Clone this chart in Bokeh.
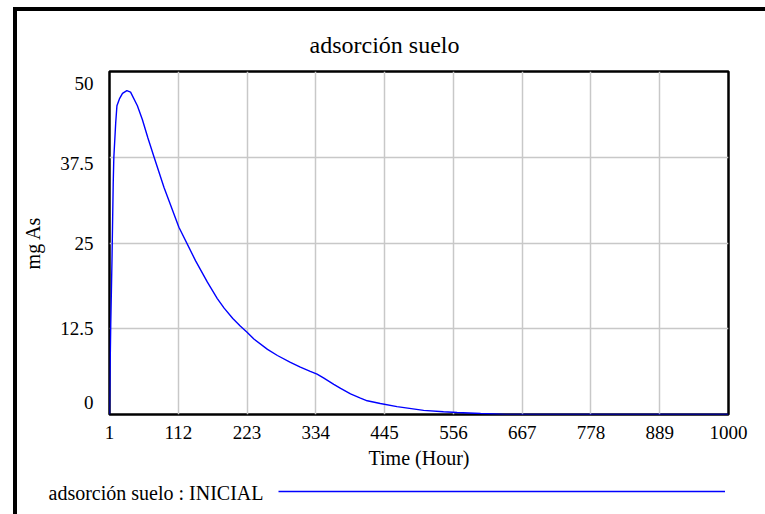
from bokeh.plotting import figure
from bokeh.layouts import column
from bokeh.models import (Range1d, FixedTicker, Label, Legend, LegendItem,
                          ColumnDataSource, CustomJSTickFormatter)
from bokeh.embed import file_html
from bokeh.resources import INLINE

# ---- data ----
time_hours = [1, 2, 3, 5, 7, 8, 11, 13, 17, 22, 29, 35, 46, 54, 63, 73, 89,
              113, 140, 159, 175, 186, 200, 212, 223, 234, 256, 272, 293,
              309, 325, 336, 347, 363, 374, 390, 406, 417, 438, 465, 508,
              540, 562, 600, 621, 640, 700, 800, 900, 1000]
adsorcion_inicial = [0, 7, 13, 22.4, 33.7, 37.5, 42.5, 45.0, 46.0, 46.8,
                     47.2, 47.0, 45.0, 43.0, 40.3, 37.5, 33.1, 27.3, 22.4,
                     19.3, 16.9, 15.5, 14.0, 12.9, 12.0, 11.0, 9.5, 8.6, 7.6,
                     6.9, 6.3, 5.9, 5.3, 4.4, 3.8, 3.0, 2.4, 2.0, 1.6, 1.15,
                     0.6, 0.4, 0.3, 0.15, 0.08, 0.02, 0, 0, 0, 0]
x_ticks = [1, 112, 223, 334, 445, 556, 667, 778, 889, 1000]
y_ticks = [0, 12.5, 25, 37.5, 50]
y_tick_labels = ["0", "12.5", "25", "37.5", "50"]

title_text = "adsorción suelo"
x_label = "Time (Hour)"
y_label = "mg As"
series_name = "adsorción suelo : INICIAL"

FONT = "Liberation Serif"
LINE_COLOR = "#0000ff"

# ---------------- main chart ----------------
W, H = 748, 470
B_LEFT, B_RIGHT, B_TOP, B_BOTTOM = 92, 37, 60, 67
p = figure(width=W, height=H, output_backend="svg", toolbar_location=None,
           x_range=Range1d(1, 1000), y_range=Range1d(0, 50),
           min_border_left=B_LEFT, min_border_right=B_RIGHT,
           min_border_top=B_TOP, min_border_bottom=B_BOTTOM)
p.frame_align = False
p.background_fill_color = "white"
p.border_fill_color = "white"
p.outline_line_color = "black"
p.outline_line_width = 2.5

src = ColumnDataSource(dict(t=time_hours, v=adsorcion_inicial))
p.line("t", "v", source=src, line_color=LINE_COLOR, line_width=1.4)

# title (centred over the whole chart, not the plot frame)
p.title.text = title_text
p.title.align = "left"
p.title.offset = 200
p.title.text_font = FONT
p.title.text_font_size = "24px"
p.title.text_font_style = "normal"
p.title.text_color = "black"
p.title.standoff = 27

# grids
p.xgrid.ticker = FixedTicker(ticks=x_ticks)
p.ygrid.ticker = FixedTicker(ticks=y_ticks)
for g in (p.xgrid, p.ygrid):
    g.grid_line_color = "#c8c8c8"
    g.grid_line_width = 1.5

# x axis
xa = p.xaxis[0]
xa.ticker = FixedTicker(ticks=x_ticks)
xa.axis_line_color = None
xa.major_tick_line_color = None
xa.minor_tick_line_color = None
xa.major_tick_out = 0
xa.major_tick_in = 0
xa.major_label_standoff = 11
xa.major_label_text_font = FONT
xa.major_label_text_font_size = "19px"
xa.major_label_text_color = "black"
xa.axis_label = x_label
xa.axis_label_text_font = FONT
xa.axis_label_text_font_size = "20px"
xa.axis_label_text_font_style = "normal"
xa.axis_label_text_color = "black"
xa.axis_label_standoff = 5

# y axis: labels nudged inwards at the ends, as in the reference
frame_h = H - B_TOP - B_BOTTOM
px_to_data = 50 / frame_h
label_nudge_px = [12, 0, 0, -6, -12]
y_label_pos = [v + n * px_to_data for v, n in zip(y_ticks, label_nudge_px)]
ya = p.yaxis[0]
ya.ticker = FixedTicker(ticks=y_label_pos)
ya.formatter = CustomJSTickFormatter(args=dict(labels=y_tick_labels),
                                     code="return labels[index];")
ya.axis_line_color = None
ya.major_tick_line_color = None
ya.minor_tick_line_color = None
ya.major_tick_out = 0
ya.major_tick_in = 0
ya.major_label_standoff = 16
ya.major_label_text_font = FONT
ya.major_label_text_font_size = "19px"
ya.major_label_text_color = "black"
ya.axis_label = y_label
ya.axis_label_text_font = FONT
ya.axis_label_text_font_size = "20px"
ya.axis_label_text_font_style = "normal"
ya.axis_label_text_color = "black"
ya.axis_label_standoff = 13

# ---------------- legend row ----------------
# a strip whose ranges lie outside the data, so the series itself is not
# drawn here; it only supplies the legend sample line
LH = 33
q = figure(width=W, height=LH, output_backend="svg", toolbar_location=None,
           x_range=Range1d(-2, -1), y_range=Range1d(0, 1),
           min_border_left=0, min_border_right=0,
           min_border_top=0, min_border_bottom=0)
q.frame_align = False
q.xaxis.visible = False
q.yaxis.visible = False
q.xgrid.visible = False
q.ygrid.visible = False
q.outline_line_color = None
q.background_fill_color = "white"
q.border_fill_color = "white"
sample = q.line("t", "v", source=src, line_color=LINE_COLOR, line_width=1.4)

q.add_layout(Label(x=31, y=21.7, x_units="screen", y_units="screen",
                   text=series_name, text_align="left",
                   text_baseline="alphabetic", text_font=FONT,
                   text_font_size="20px", text_color="black"))
legend = Legend(items=[LegendItem(label=" ", renderers=[sample])],
                location=(261, 21), glyph_width=447, glyph_height=4,
                label_height=4, label_width=1,
                padding=0, margin=0, spacing=0, label_standoff=0,
                label_text_font_size="1px", border_line_color=None,
                background_fill_alpha=0)
q.add_layout(legend, "center")

layout = column(p, q, spacing=0,
                styles={"margin-left": "13px", "margin-top": "7px",
                        "border-left": "4px solid black",
                        "border-top": "4px solid black"})

open("out.html", "w").write(file_html(layout, INLINE))
